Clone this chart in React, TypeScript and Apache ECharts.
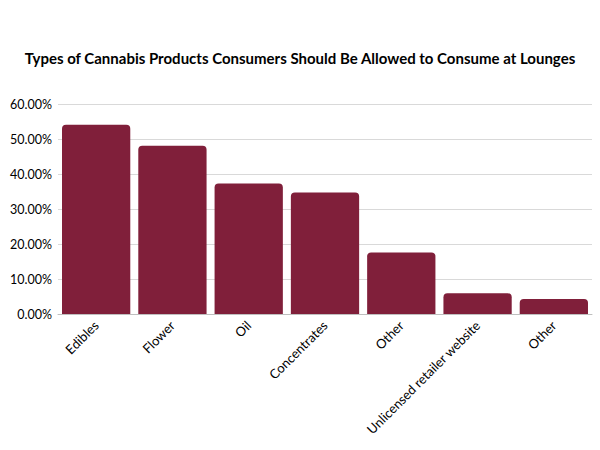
import React, { useEffect, useRef } from "react";
import * as echarts from "echarts";

const categories = [
  "Edibles",
  "Flower",
  "Oil",
  "Concentrates",
  "Other",
  "Unlicensed retailer website",
  "Other",
];
const shares = [54.1, 48.1, 37.3, 34.7, 17.6, 5.9, 4.3];
const yTicks = [0, 10, 20, 30, 40, 50, 60];

const BAR_COLOR = "#801f3a";
const FONT = "Lato, 'Open Sans', sans-serif";

export default function App() {
  const ref = useRef<HTMLDivElement>(null);

  useEffect(() => {
    if (!ref.current) return;
    const chart = echarts.init(ref.current, undefined, { renderer: "svg" });
    chart.setOption({
      animation: false,
      backgroundColor: "#ffffff",
      title: {
        text: "Types of Cannabis Products Consumers Should Be Allowed to Consume at Lounges",
        left: "center",
        top: 45,
        textStyle: { fontFamily: FONT, fontSize: 15, fontWeight: "bold", color: "#000000" },
      },
      grid: { left: 58, right: 8, top: 104, bottom: 136, containLabel: false },
      xAxis: {
        type: "category",
        data: categories,
        axisTick: { show: false },
        axisLine: { lineStyle: { color: "#bfbfbf", width: 1 } },
        axisLabel: {
          rotate: 45,
          interval: 0,
          margin: 9,
          fontFamily: FONT,
          fontSize: 13,
          color: "#000000",
        },
      },
      yAxis: {
        type: "value",
        min: yTicks[0],
        max: yTicks[yTicks.length - 1],
        interval: 10,
        axisLine: { show: false },
        axisTick: { show: false },
        splitLine: { lineStyle: { color: "#d9d9d9", width: 1 } },
        axisLabel: {
          margin: 6,
          fontFamily: FONT,
          fontSize: 12.5,
          color: "#000000",
          formatter: (v: number) => v.toFixed(2) + "%",
        },
      },
      series: [
        {
          type: "bar",
          data: shares,
          barCategoryGap: "10.5%",
          itemStyle: { color: BAR_COLOR, borderRadius: [4, 4, 0, 0] },
        },
      ],
    });
    return () => chart.dispose();
  }, []);

  return (
    <div
      ref={ref}
      style={{ position: "fixed", left: 0, top: 0, width: 600, height: 450 }}
    />
  );
}
